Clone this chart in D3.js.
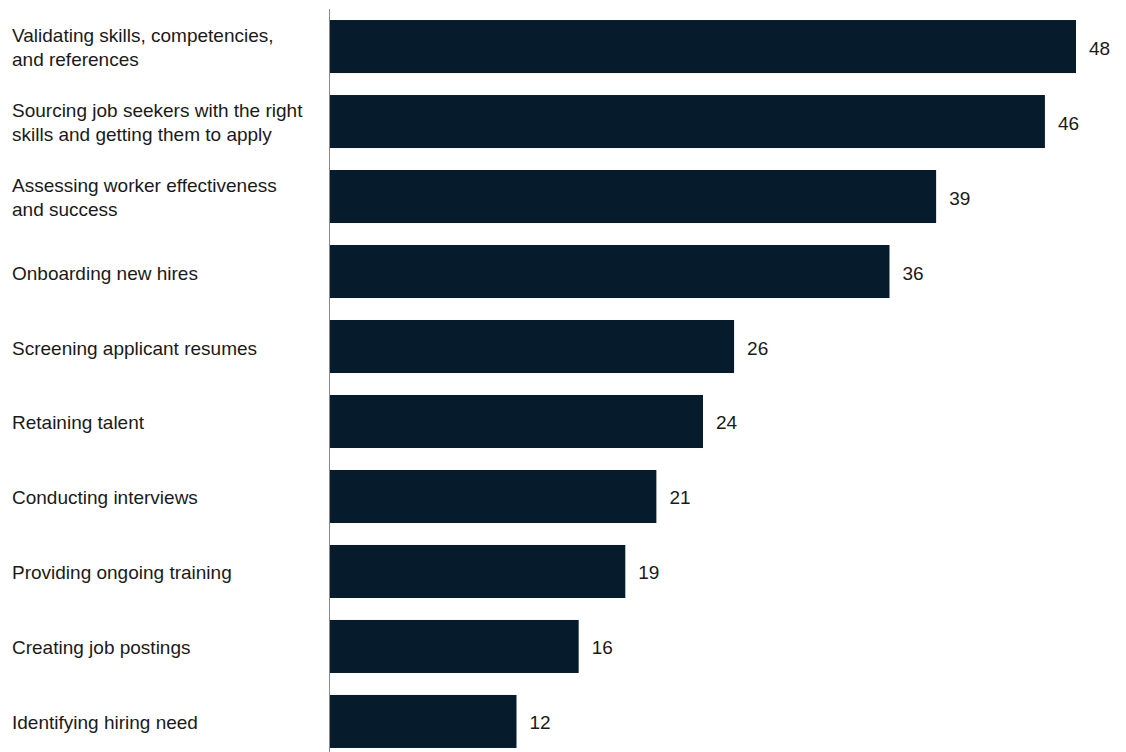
<!DOCTYPE html>
<html>
<head>
<meta charset="utf-8">
<script src="https://cdn.jsdelivr.net/npm/d3@7"></script>
<style>
  body { margin: 0; background: #fff; }
  svg { display: block; font-family: "Liberation Sans", Arial, sans-serif; }
</style>
</head>
<body>
<svg width="1126" height="752"></svg>
<script>
const categories = [
  ["Validating skills, competencies,", "and references"],
  ["Sourcing job seekers with the right", "skills and getting them to apply"],
  ["Assessing worker effectiveness", "and success"],
  ["Onboarding new hires"],
  ["Screening applicant resumes"],
  ["Retaining talent"],
  ["Conducting interviews"],
  ["Providing ongoing training"],
  ["Creating job postings"],
  ["Identifying hiring need"]
];
const values = [48, 46, 39, 36, 26, 24, 21, 19, 16, 12];

const svg = d3.select("svg");
const width = +svg.attr("width");
const height = +svg.attr("height");

const data = categories.map((c, i) => ({ key: i, lines: c, value: values[i] }));

const x0 = 330;
const xScale = d3.scaleLinear().domain([0, 48]).range([x0, 1076]);

const yScale = d3
  .scaleBand()
  .domain(data.map((d) => d.key))
  .range([9, 9 + 75 * 10])
  .paddingInner(0.293)
  .paddingOuter(0.147);

svg.selectAll("rect.bar")
  .data(data)
  .join("rect")
  .attr("class", "bar")
  .attr("x", xScale(0))
  .attr("y", (d) => yScale(d.key))
  .attr("width", (d) => xScale(d.value) - xScale(0))
  .attr("height", yScale.bandwidth())
  .attr("fill", "#061c2c");

// vertical axis line
svg.append("line")
  .attr("x1", x0 - 0.5)
  .attr("x2", x0 - 0.5)
  .attr("y1", 9)
  .attr("y2", height)
  .attr("stroke", "#8a8a8a")
  .attr("stroke-width", 1);

const fontSize = 19;
const mid = (d) => yScale(d.key) + yScale.bandwidth() / 2;

// value labels
svg.selectAll("text.val")
  .data(data)
  .join("text")
  .attr("class", "val")
  .attr("x", (d) => xScale(d.value) + 13)
  .attr("y", (d) => mid(d) + 8)
  .attr("font-size", fontSize)
  .attr("fill", "#1a1a1a")
  .text((d) => d.value);

// category labels
const lineH = 23.5;
const cat = svg.selectAll("text.cat")
  .data(data)
  .join("text")
  .attr("class", "cat")
  .attr("x", 12)
  .attr("y", (d) => mid(d) + 8 - (d.lines.length - 1) * 12.5)
  .attr("font-size", fontSize)
  .attr("fill", "#1a1a1a");

cat.selectAll("tspan")
  .data((d) => d.lines)
  .join("tspan")
  .attr("x", 12)
  .attr("dy", (d, i) => (i === 0 ? 0 : lineH))
  .text((d) => d);
</script>
</body>
</html>
